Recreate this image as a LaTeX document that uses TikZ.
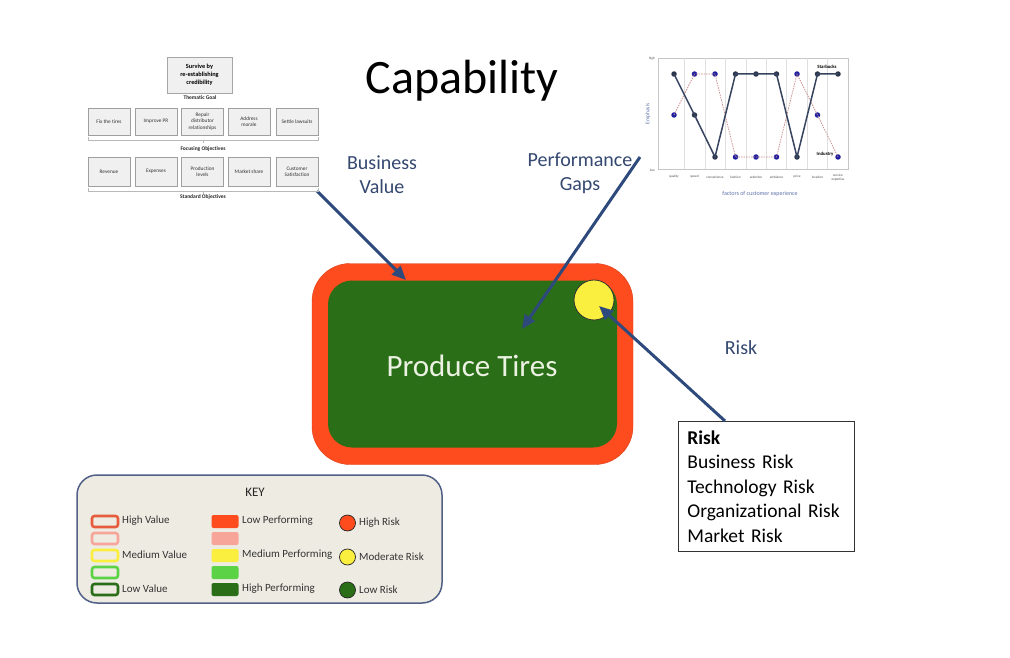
\documentclass[tikz,border=0pt]{standalone}
\usepackage{fontspec}
\setmainfont[Ligatures=NoCommon]{Carlito}
\usetikzlibrary{arrows.meta}
\definecolor{navy}{RGB}{46,74,125}
\definecolor{lbl}{RGB}{52,72,112}
\definecolor{hot}{RGB}{255,76,30}
\definecolor{deepgreen}{RGB}{42,110,24}
\definecolor{yel}{RGB}{250,238,62}
\definecolor{keybg}{RGB}{238,235,227}
\definecolor{keyborder}{RGB}{80,96,135}
\definecolor{pinkc}{RGB}{246,165,152}
\definecolor{lightg}{RGB}{92,210,70}
\definecolor{hvred}{RGB}{232,92,62}
\definecolor{chblue}{RGB}{95,115,170}
\definecolor{sbline}{RGB}{55,68,95}
\definecolor{indline}{RGB}{200,140,140}
\definecolor{indmark}{RGB}{30,30,160}
\newcommand\myfs[2]{\fontsize{#1}{#2}\selectfont}
\tikzset{
  arr/.style={draw=navy, line width=3, -{Triangle[length=14,width=12]}},
  orgbox/.style={draw=gray!75, fill=gray!12, line width=0.6, minimum width=42, minimum height=27, align=center, inner sep=1, font=\myfs{5.3}{6.3}, text=black!80},
  orgcap/.style={font=\bfseries\myfs{5.5}{6}, text=black!85},
  bracket/.style={draw=gray!55, line width=0.5},
  vbox/.style={draw=#1, line width=2.6, rounded corners=2.5, fill=keybg, minimum width=26, minimum height=11, inner sep=0},
  pbox/.style={fill=#1, rounded corners=2, minimum width=27, minimum height=13, inner sep=0},
  rdot/.style={circle, draw=black!85, line width=0.7, fill=#1, minimum size=16, inner sep=0},
  keytxt/.style={font=\myfs{11}{12}, text=black!80, anchor=west, inner sep=0},
  sbm/.style={circle, fill=sbline!80!black, minimum size=5.5, inner sep=0},
  inm/.style={circle, fill=indmark, minimum size=5.5, inner sep=0},
  tick/.style={font=\myfs{3.4}{3.8}, text=black!70, align=center, inner sep=0},
}
\begin{document}
\begin{tikzpicture}[x=1pt,y=-1pt]
\useasboundingbox (0,0) rectangle (1010,658);
\fill[white] (0,0) rectangle (1010,658);

% title and labels
\node[font=\myfs{48}{56}] (title) at (462,81) {Capability};
\node[font=\myfs{20}{24}, text=lbl, align=center] (bv) at (382,175) {Business\\Value};
\node[font=\myfs{20}{24}, text=lbl, align=center] (pg) at (580,173) {Performance\\Gaps};
\node[font=\myfs{20}{24}, text=lbl] (risklbl) at (741,348) {Risk};

% main capability box
\node[fill=hot, draw=hot!85!black, line width=0.4, rounded corners=38, minimum width=321, minimum height=201, inner sep=0] (outer) at (472.5,364) {};
\node[fill=deepgreen, rounded corners=24, minimum width=289, minimum height=167, inner sep=0] (inner) at (472.5,364) {};
\node[font=\myfs{31}{36}, text={rgb,255:red,236;green,242;blue,226}] (ptxt) at (472,366) {Produce Tires};
\node[circle, draw=black!80, line width=0.8, fill=yel, minimum size=40, inner sep=0] (yc) at (594,300) {};

% risk list
\node[draw=black!80, line width=0.8, anchor=north west, minimum width=176, minimum height=130, text width=158, inner xsep=9, align=left, font=\myfs{19.5}{24.5}] (riskbox) at (678,421) {\textbf{Risk}\\Business Risk\\Technology Risk\\Organizational Risk\\Market Risk};

% arrows
\coordinate (bvs) at (317,191);
\coordinate (bve) at (406,280);
\coordinate (pgs) at (640,157);
\coordinate (pge) at (522,329);
\coordinate (rks) at (725,421);
\coordinate (rke) at (599,306);
\draw[arr] (bvs) -- (bve);
\draw[arr] (pgs) -- (pge);
\draw[arr] (rks) -- (rke);

% ---------------- org chart ----------------
\node[draw=gray!70, fill=gray!12, line width=0.7, minimum width=65, minimum height=36, align=center, inner sep=1, font=\bfseries\myfs{6.3}{7.8}] (goal) at (199.5,75) {Survive by\\re-establishing\\credibility};
\node[orgcap] (tg) at (200,98) {Thematic Goal};
\node[orgbox] (f1) at (109,121.5) {Fix the tires};
\node[orgbox] (f2) at (156,121.5) {Improve PR};
\node[orgbox] (f3) at (202.5,121.5) {Repair\\distributor\\relationships};
\node[orgbox] (f4) at (249,121.5) {Address\\morale};
\node[orgbox] (f5) at (297,121.5) {Settle lawsuits};
\draw[bracket] (88,137) -- (88,140) -- (318,140) -- (318,137);
\draw[bracket] (203,140) -- (203,143);
\node[orgcap] (fo) at (203,149) {Focusing Objectives};
\node[orgbox, minimum height=29] (s1) at (109,171.5) {Revenue};
\node[orgbox, minimum height=29] (s2) at (156,171.5) {Expenses};
\node[orgbox, minimum height=29] (s3) at (202.5,171.5) {Production\\levels};
\node[orgbox, minimum height=29] (s4) at (249,171.5) {Market share};
\node[orgbox, minimum height=29] (s5) at (297,171.5) {Customer\\Satisfaction};
\draw[bracket] (88,188) -- (88,191) -- (318,191) -- (318,188);
\draw[bracket] (203,191) -- (203,194);
\node[orgcap] (so) at (203,197) {Standard Objectives};

% ---------------- chart ----------------
\draw[gray!45, line width=0.5] (658,58) rectangle (848,169);
\foreach \gx in {684,705,725.5,746,766,786.5,807,827.5}
  \draw[gray!25, line width=0.4] (\gx,58) -- (\gx,169);
\node[tick, anchor=east] (hi) at (655,59) {high};
\node[tick, anchor=east] (lo) at (655,170) {low};
\node[font=\myfs{5.5}{6}, text=chblue, rotate=90] (emph) at (648,114) {Emphasis};
\node[font=\myfs{6}{7}, text=chblue] (fce) at (760,194) {factors of customer experience};
\foreach \nm/\cx in {quality/674,speed/694.5,convenience/715,fashion/735.5,selection/756,ambiance/776.5,price/797,location/817.5}
  \node[tick] (t\nm) at (\cx,177) {\nm};
\node[tick] (tservice) at (838,178) {service\\expertise};
% industry (dashed)
\node[inm] (i1) at (674,115) {};
\node[inm] (i2) at (694.5,74) {};
\node[inm] (i3) at (715,74) {};
\node[inm] (i4) at (735.5,157) {};
\node[inm] (i5) at (756,157) {};
\node[inm] (i6) at (776.5,157) {};
\node[inm] (i7) at (797,74) {};
\node[inm] (i8) at (817.5,115) {};
\node[inm] (i9) at (838,157) {};
\draw[indline, line width=0.7, dash pattern=on 1.5 off 1] (i1.center) -- (i2.center) -- (i3.center) -- (i4.center) -- (i5.center) -- (i6.center) -- (i7.center) -- (i8.center) -- (i9.center);
% starbucks (solid)
\node[sbm] (b1) at (674,74) {};
\node[sbm] (b2) at (694.5,115) {};
\node[sbm] (b3) at (715,157) {};
\node[sbm] (b4) at (735.5,74) {};
\node[sbm] (b5) at (756,74) {};
\node[sbm] (b6) at (776.5,74) {};
\node[sbm] (b7) at (797,157) {};
\node[sbm] (b8) at (817.5,74) {};
\node[sbm] (b9) at (838,74) {};
\draw[sbline, line width=1.5] (b1.center) -- (b2.center) -- (b3.center) -- (b4.center) -- (b5.center) -- (b6.center) -- (b7.center) -- (b8.center) -- (b9.center);
\node[font=\bfseries\myfs{4.8}{5}, inner sep=0] (sbl) at (827,67) {Starbucks};
\node[font=\bfseries\myfs{4.8}{5}, inner sep=0] (inl) at (825,154) {Industry};

% ---------------- key ----------------
\node[draw=keyborder, line width=1.5, fill=keybg, rounded corners=20, minimum width=365, minimum height=128, inner sep=0] (key) at (259.5,539) {};
\node[font=\myfs{13}{15}, text=black!85] (keyt) at (255,492) {KEY};
\node[vbox=hvred] (v1) at (105,521.5) {};
\node[vbox=pinkc] (v2) at (105,538.5) {};
\node[vbox=yel] (v3) at (105,555.5) {};
\node[vbox=lightg] (v4) at (105,572.5) {};
\node[vbox=deepgreen] (v5) at (105,589.5) {};
\node[keytxt] (vt1) at (122,521) {High Value};
\node[keytxt] (vt3) at (122,555) {Medium Value};
\node[keytxt] (vt5) at (122,589) {Low Value};
\node[pbox=hot] (p1) at (225,521.5) {};
\node[pbox=pinkc] (p2) at (225,538.5) {};
\node[pbox=yel] (p3) at (225,555.5) {};
\node[pbox=lightg] (p4) at (225,572.5) {};
\node[pbox=deepgreen] (p5) at (225,589.5) {};
\node[keytxt] (pt1) at (242,521) {Low Performing};
\node[keytxt] (pt3) at (242,555) {Medium Performing};
\node[keytxt] (pt5) at (242,589) {High Performing};
\node[rdot=hot] (r1) at (347.5,523) {};
\node[rdot=yel] (r2) at (347.5,557) {};
\node[rdot=deepgreen] (r3) at (347.5,590) {};
\node[keytxt] (rt1) at (359,523) {High Risk};
\node[keytxt] (rt2) at (359,557) {Moderate Risk};
\node[keytxt] (rt3) at (359,590) {Low Risk};
\end{tikzpicture}
\end{document}
